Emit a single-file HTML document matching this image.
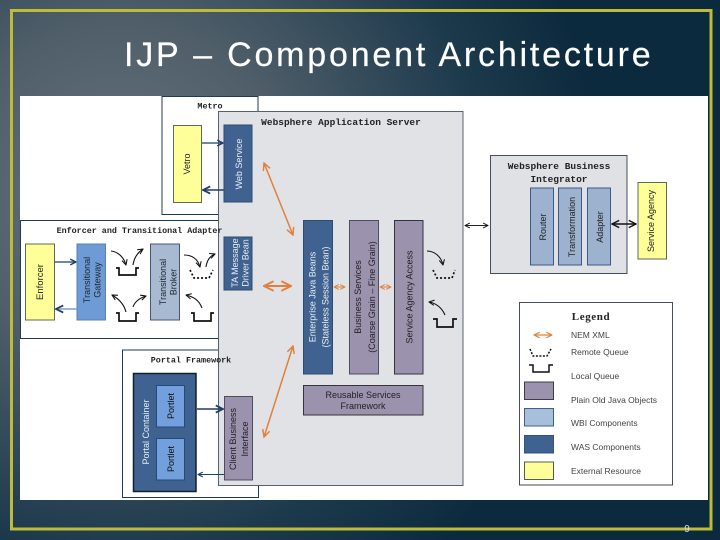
<!DOCTYPE html>
<html>
<head>
<meta charset="utf-8">
<style>
html,body{margin:0;padding:0;width:720px;height:540px;overflow:hidden;background:#0d2a3d}
svg{display:block}
text{font-family:"Liberation Sans",sans-serif}
.m{font-family:"Liberation Mono",monospace;font-size:8.4px;font-weight:bold;fill:#222;text-anchor:middle}
.b{font-size:9.500px}
.v{font-size:9px;text-anchor:middle}
.l{font-size:8.5px;fill:#444}
</style>
</head>
<body>
<svg width="720" height="540" viewBox="0 0 720 540" xmlns="http://www.w3.org/2000/svg">
<defs>
<radialGradient id="bg" gradientUnits="userSpaceOnUse" cx="120" cy="190" r="480">
<stop offset="0" stop-color="#66747d"/>
<stop offset=".35" stop-color="#4f5e69"/>
<stop offset=".75" stop-color="#1d3a4d"/>
<stop offset="1" stop-color="#0c2a3d"/>
</radialGradient>
<marker id="n" viewBox="0 0 10 10" refX="9" refY="5" markerWidth="6" markerHeight="6" orient="auto-start-reverse"><path d="M1 1L9 5L1 9" fill="none" stroke="#1f3f66" stroke-width="2"/></marker>
<marker id="k" viewBox="0 0 10 10" refX="9" refY="5" markerWidth="6" markerHeight="6" orient="auto-start-reverse"><path d="M1 1L9 5L1 9" fill="none" stroke="#111" stroke-width="1.6"/></marker>
<marker id="o" viewBox="0 0 10 10" refX="9" refY="5" markerWidth="6" markerHeight="6" orient="auto-start-reverse"><path d="M1 1L9 5L1 9" fill="none" stroke="#e0803c" stroke-width="1.6"/></marker>
</defs>
<rect width="720" height="540" fill="url(#bg)"/>
<rect x="11.500" y="10.500" width="699.500" height="518.500" fill="none" stroke="#bdbb38" stroke-width="3"/>
<text x="124" y="66" font-size="34" fill="#fff" letter-spacing="2.800" stroke="#fff" stroke-width=".2">IJP – Component Architecture</text>
<rect x="20" y="96" width="688" height="404" fill="#fff"/>

<!-- Containers -->
<rect x="162" y="96.500" width="96" height="118" fill="#fff" stroke="#1f3a5a" stroke-width="1"/>
<rect x="20.500" y="220.500" width="238" height="118" fill="#fff" stroke="#1f3a5a" stroke-width="1"/>
<rect x="122.500" y="350" width="136" height="147.500" fill="#fff" stroke="#1f3a5a" stroke-width="1"/>
<rect x="218.500" y="111.500" width="244.500" height="374" fill="#e0e2e5" stroke="#56626e" stroke-width="1"/>

<text x="210" y="108.500" class="m">Metro</text>
<text x="139.500" y="233" class="m">Enforcer and Transitional Adapter</text>
<text x="191" y="362.500" class="m">Portal Framework</text>
<text x="341" y="125" class="m b">Websphere Application Server</text>

<!-- Metro -->
<rect x="173.500" y="125.500" width="28" height="77" fill="#ffff99" stroke="#5c6b55"/>
<text transform="translate(190,164) rotate(-90)" class="v" fill="#222">Vetro</text>
<rect x="224" y="125" width="28" height="77" fill="#3f6290" stroke="#2d4c74"/>
<text transform="translate(242,164) rotate(-90)" class="v" fill="#e8edf3">Web Service</text>
<path d="M202 143H223" stroke="#1f3f66" stroke-width="1.200" marker-end="url(#n)"/>
<path d="M224 190H203" stroke="#1f3f66" stroke-width="1.500" marker-end="url(#n)"/>

<!-- Enforcer group -->
<rect x="25.500" y="244" width="29" height="76" fill="#ffff99" stroke="#5c6b55"/>
<text transform="translate(43,282) rotate(-90)" font-size="9.500" text-anchor="middle" fill="#222">Enforcer</text>
<rect x="77" y="244" width="28.500" height="76" fill="#6e9ad6" stroke="#5a7fb5"/>
<text transform="translate(92,280) rotate(-90)" class="v" fill="#1a2530"><tspan x="0" y="-2">Transitional</tspan><tspan x="0" y="8.500">Gateway</tspan></text>
<rect x="150.500" y="244" width="29" height="76" fill="#a8b9d2" stroke="#44597a"/>
<text transform="translate(169,282) rotate(-90)" class="v" fill="#1a2530"><tspan x="0" y="-3">Transitional</tspan><tspan x="0" y="7.500">Broker</tspan></text>
<rect x="224" y="237" width="28" height="53" fill="#3f6290" stroke="#2d4c74"/>
<text transform="translate(239,263) rotate(-90)" class="v" fill="#e8edf3"><tspan x="0" y="-1">TA Message</tspan><tspan x="0" y="9.500">Driver Bean</tspan></text>
<path d="M55 262H76" stroke="#1f3f66" stroke-width="1.200" marker-end="url(#n)"/>
<path d="M77 309H56" stroke="#7f9fc8" stroke-width="1.500" marker-end="url(#n)"/>

<!-- Queues / curved arrows -->
<g fill="none" stroke="#111" stroke-width="1.700">
<path d="M116 268H119V275H136V268H139"/>
<path d="M116 313H119V321H136V313H139"/>
<path d="M191 313H194V321H211V313H214"/>
<path d="M190 270L194 278H209L213 270" stroke-dasharray="2 2"/>
<path d="M433 270L437 278H452L455 270" stroke-dasharray="2 2"/>
<path d="M433 319H437V327H453V319H457"/>
<path d="M502 216H505V224H522V216H526"/>
</g>
<g fill="none" stroke="#111" stroke-width="1.100">
<path d="M111 251C119 252 124 258 126 265" marker-end="url(#k)"/>
<path d="M133 265C134 258 137 253 143 249" marker-end="url(#k)"/>
<path d="M126 312C124 304 119 299 112 295" marker-end="url(#k)"/>
<path d="M133 307C135 301 140 298 146 296" marker-end="url(#k)"/>
<path d="M184 255C193 255 198 260 200 267" marker-end="url(#k)"/>
<path d="M206 267C207 260 210 256 215 254" marker-end="url(#k)"/>
<path d="M202 308C199 300 194 297 186 295" marker-end="url(#k)"/>
<path d="M427 251C434 251 441 256 443 265" marker-end="url(#k)"/>
<path d="M445 315C442 308 436 303 429 302" marker-end="url(#k)"/>
<path d="M519 210C520 202 523 199 529 197" marker-end="url(#k)"/>
</g>

<!-- Portal -->
<rect x="133.500" y="373.500" width="62.500" height="118" fill="#3f6290" stroke="#10202f" stroke-width="1.500"/>
<text transform="translate(149,432) rotate(-90)" class="v" fill="#e8edf3">Portal Container</text>
<rect x="156.500" y="385.500" width="28" height="41.500" fill="#739fdc" stroke="#234a80"/>
<text transform="translate(174,406) rotate(-90)" class="v" fill="#111">Portlet</text>
<rect x="156.500" y="438.500" width="28" height="41.500" fill="#739fdc" stroke="#234a80"/>
<text transform="translate(174,459) rotate(-90)" class="v" fill="#111">Portlet</text>
<rect x="224.500" y="396.500" width="28" height="83.500" fill="#9b92ae" stroke="#4e4e5a"/>
<text transform="translate(238,439) rotate(-90)" class="v" fill="#222"><tspan x="0" y="-2">Client Business</tspan><tspan x="0" y="10">Interface</tspan></text>
<path d="M197 409H223" stroke="#1f3f66" stroke-width="1.500" marker-end="url(#n)"/>
<path d="M224 474.500H198" stroke="#1f3f66" stroke-width="1" marker-end="url(#n)"/>

<!-- WAS middle -->
<rect x="303.500" y="220.500" width="29" height="153.500" fill="#3f6290" stroke="#2d4c74"/>
<text transform="translate(316,297) rotate(-90)" class="v" fill="#e8edf3"><tspan x="0" y="-0.500">Enterprise Java Beans</tspan><tspan x="0" y="12.500">(Stateless Session Bean)</tspan></text>
<rect x="349.500" y="220.500" width="29" height="153.500" fill="#9b92ae" stroke="#4e4e5a"/>
<text transform="translate(362,297) rotate(-90)" class="v" fill="#222"><tspan x="0" y="-1">Business Services</tspan><tspan x="0" y="13">(Coarse Grain – Fine Grain)</tspan></text>
<rect x="394.500" y="220.500" width="28.500" height="153.500" fill="#9b92ae" stroke="#34343f"/>
<text transform="translate(412.500,297) rotate(-90)" class="v" fill="#222">Service Agency Access</text>
<rect x="303.500" y="385.500" width="119.500" height="29.500" fill="#9b92ae" stroke="#34343f"/>
<text x="363" y="398" font-size="9" text-anchor="middle" fill="#222">Reusable Services</text>
<text x="363" y="409" font-size="9" text-anchor="middle" fill="#222">Framework</text>

<!-- Orange arrows -->
<g fill="none" stroke="#e0803c">
<path d="M264 286H291" stroke-width="2" marker-start="url(#o)" marker-end="url(#o)"/>
<path d="M334 287H345" stroke-width="1" marker-start="url(#o)" marker-end="url(#o)"/>
<path d="M380 287H391" stroke-width="1" marker-start="url(#o)" marker-end="url(#o)"/>
<path d="M264 163L293 235" stroke-width="1.500" marker-start="url(#o)" marker-end="url(#o)"/>
<path d="M264 437L293 346" stroke-width="1.500" marker-start="url(#o)" marker-end="url(#o)"/>
</g>

<!-- WBI -->
<rect x="490.500" y="155.500" width="136.500" height="118" fill="#dfe1e4" stroke="#44505c"/>
<text x="559" y="169" class="m b">Websphere Business</text>
<text x="559" y="182" class="m b">Integrator</text>
<rect x="530.500" y="188" width="23" height="77" fill="#9db2cf" stroke="#3a5a8c"/>
<text transform="translate(546,227) rotate(-90)" class="v" fill="#222">Router</text>
<rect x="558.500" y="188" width="23" height="77" fill="#9db2cf" stroke="#3a5a8c"/>
<text transform="translate(575,227) rotate(-90)" class="v" fill="#222">Transformation</text>
<rect x="587.500" y="188" width="23" height="77" fill="#9db2cf" stroke="#3a5a8c"/>
<text transform="translate(603,227) rotate(-90)" class="v" fill="#222">Adapter</text>
<rect x="638" y="182.500" width="28.500" height="76.500" fill="#ffff99" stroke="#5c6b55"/>
<text transform="translate(654,221) rotate(-90)" class="v" fill="#222">Service Agency</text>
<path d="M465 225.500H488" fill="none" stroke="#222" stroke-width="1" marker-start="url(#k)" marker-end="url(#k)"/>
<path d="M612 224H636" fill="none" stroke="#111" stroke-width="1.500" marker-start="url(#k)" marker-end="url(#k)"/>

<!-- Legend -->
<rect x="519.500" y="302.500" width="153" height="182.500" fill="#fff" stroke="#444e58"/>
<text x="591" y="320" font-size="11" font-weight="bold" letter-spacing=".6" text-anchor="middle" fill="#222" style="font-family:'Liberation Serif',serif">Legend</text>
<path d="M534 335H552" fill="none" stroke="#e0803c" stroke-width="1.200" marker-start="url(#o)" marker-end="url(#o)"/>
<path d="M530 349L533 356H547L551 349" fill="none" stroke="#111" stroke-width="1.500" stroke-dasharray="2 1.500"/>
<path d="M529 365H533V372H549V365H553" fill="none" stroke="#111" stroke-width="1.500"/>
<rect x="524.500" y="382" width="29" height="17.500" fill="#9b92ae" stroke="#3c3c48"/>
<rect x="524.500" y="408.500" width="29" height="17.500" fill="#a8bfdc" stroke="#3f5f88"/>
<rect x="524.500" y="435.500" width="29" height="17.500" fill="#3f6290" stroke="#34527c"/>
<rect x="524.500" y="462" width="29" height="17.500" fill="#ffff99" stroke="#4f5f52"/>
<text x="571" y="338" class="l">NEM XML</text>
<text x="571" y="355" class="l">Remote Queue</text>
<text x="571" y="379" class="l">Local Queue</text>
<text x="571" y="403" class="l">Plain Old Java Objects</text>
<text x="571" y="426" class="l">WBI Components</text>
<text x="571" y="450" class="l">WAS Components</text>
<text x="571" y="474" class="l">External Resource</text>
<text x="687" y="532" font-size="10" text-anchor="middle" fill="#d8dde0">9</text>
</svg>
</body>
</html>
